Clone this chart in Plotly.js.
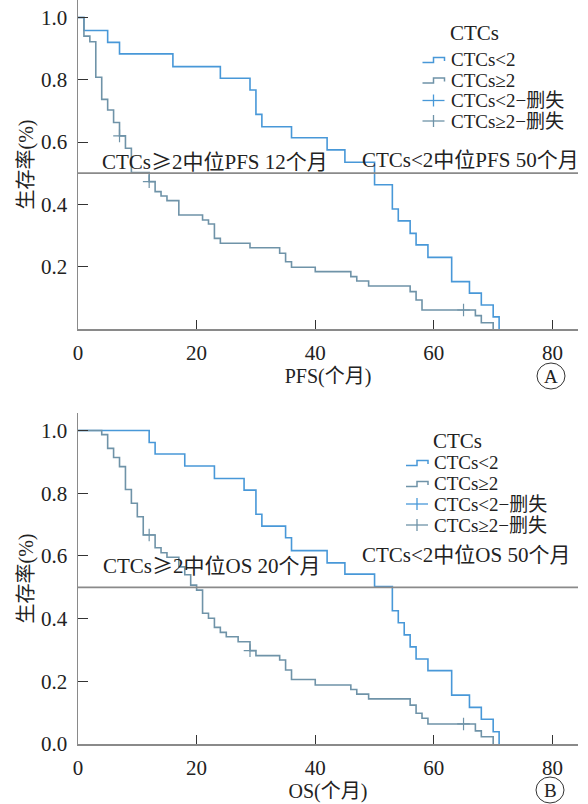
<!DOCTYPE html>
<html>
<head>
<meta charset="utf-8">
<script src="https://cdn.plot.ly/plotly-3.0.1.min.js"></script>
<style>html,body{margin:0;padding:0;background:#fff;}#chart{width:588px;height:804px;}</style>
</head>
<body>
<div id="chart"></div>
<script>
// ---------- DATA ----------
// PFS, CTCs<2
const pfsLowT = [0, 1, 5, 7, 16, 24, 29, 30, 31, 36, 42, 45, 50, 53, 54, 56, 57, 59, 63, 66, 68, 70, 71];
const pfsLowS = [1, 0.958, 0.92, 0.883, 0.842, 0.805, 0.767, 0.689, 0.649, 0.614, 0.575, 0.535, 0.463, 0.385, 0.347, 0.307, 0.27, 0.23, 0.152, 0.115, 0.077, 0.039, 0];
// PFS, CTCs>=2
const pfsHighT = [0, 1, 2, 3, 4, 5, 6, 7, 8, 9, 12, 13, 14, 15, 17, 21, 22, 23, 24, 29, 34, 35, 36, 40, 46, 47, 49, 56, 57, 58, 67, 68, 70];
const pfsHighS = [1, 0.94, 0.922, 0.808, 0.737, 0.703, 0.663, 0.62, 0.58, 0.502, 0.473, 0.441, 0.427, 0.412, 0.366, 0.35, 0.337, 0.291, 0.275, 0.261, 0.243, 0.216, 0.198, 0.184, 0.168, 0.154, 0.138, 0.12, 0.093, 0.061, 0.043, 0.02, 0];
// PFS censored
const pfsLowCensT = [];
const pfsLowCensS = [];
const pfsHighCensT = [7, 12, 65];
const pfsHighCensS = [0.62, 0.473, 0.061];

// OS, CTCs<2
const osLowT = [0, 12, 13, 18, 23, 28, 30, 31, 35, 36, 42, 45, 50, 53, 54, 55, 56, 57, 59, 63, 66, 68, 70, 71];
const osLowS = [1, 0.962, 0.925, 0.887, 0.847, 0.81, 0.733, 0.695, 0.658, 0.617, 0.578, 0.542, 0.502, 0.425, 0.387, 0.348, 0.31, 0.271, 0.234, 0.156, 0.117, 0.079, 0.039, 0];
// OS, CTCs>=2
const osHighT = [0, 4, 5, 6, 7, 8, 9, 10, 11, 13, 14, 15, 17, 18, 19, 20, 21, 22, 23, 24, 25, 27, 29, 30, 34, 35, 36, 40, 46, 47, 49, 56, 57, 58, 59, 67, 68, 70];
const osHighS = [1, 0.987, 0.943, 0.914, 0.885, 0.812, 0.768, 0.725, 0.667, 0.626, 0.61, 0.596, 0.565, 0.54, 0.507, 0.491, 0.417, 0.401, 0.372, 0.356, 0.342, 0.326, 0.298, 0.282, 0.268, 0.236, 0.206, 0.188, 0.174, 0.159, 0.144, 0.124, 0.098, 0.082, 0.064, 0.042, 0.023, 0];
// OS censored
const osLowCensT = [];
const osLowCensS = [];
const osHighCensT = [12, 29, 65];
const osHighCensS = [0.667, 0.298, 0.064];

// labels
const legendTitle = 'CTCs';
const legendNames = ['CTCs<2', 'CTCs≥2', 'CTCs<2−删失', 'CTCs≥2−删失'];
const xTicks = [0, 20, 40, 60, 80];
const yTicksTop = [0.2, 0.4, 0.6, 0.8, 1.0];
const yTicksBottom = [0.0, 0.2, 0.4, 0.6, 0.8, 1.0];
const medianLevel = 0.5;
const pfsNotes = ['CTCs≥2中位PFS 12个月', 'CTCs<2中位PFS 50个月'];
const osNotes = ['CTCs≥2中位OS 20个月', 'CTCs<2中位OS 50个月'];

// ---------- STYLE ----------
const W = 588, H = 804;
const BLUE = '#4898d8';
const GRAY = '#6f93a8';
const FONT = 'Liberation Serif, Times New Roman, Noto Sans CJK SC, serif';
const px = v => v / W;
const py = v => 1 - v / H;
const esc = s => s.replace(/</g, '&lt;');
// the reference sets "≥" as a wide, CJK-style glyph in the median notes
const wide = s => esc(s).replace(/≥/g, '<span style="font-family:Noto Sans CJK SC">≥</span>');

function curve(t, s, color, xa, ya, name) {
  return {x: t, y: s, type: 'scatter', mode: 'lines', line: {shape: 'hv', color: color, width: 1.6},
          xaxis: xa, yaxis: ya, name: name, showlegend: false, hoverinfo: 'skip'};
}
function cens(t, s, color, xa, ya, name) {
  return {x: t, y: s, type: 'scatter', mode: 'markers',
          marker: {symbol: 'cross-thin', size: 9, line: {color: color, width: 1.2}, color: color},
          xaxis: xa, yaxis: ya, name: name, showlegend: false, hoverinfo: 'skip'};
}

const data = [
  curve(pfsLowT, pfsLowS, BLUE, 'x', 'y', legendNames[0]),
  curve(pfsHighT, pfsHighS, GRAY, 'x', 'y', legendNames[1]),
  cens(pfsLowCensT, pfsLowCensS, BLUE, 'x', 'y', legendNames[2]),
  cens(pfsHighCensT, pfsHighCensS, GRAY, 'x', 'y', legendNames[3]),
  curve(osLowT, osLowS, BLUE, 'x2', 'y2', legendNames[0]),
  curve(osHighT, osHighS, GRAY, 'x2', 'y2', legendNames[1]),
  cens(osLowCensT, osLowCensS, BLUE, 'x2', 'y2', legendNames[2]),
  cens(osHighCensT, osHighCensS, GRAY, 'x2', 'y2', legendNames[3])
];

// ---------- LAYOUT ----------
const xDomain = [px(78), px(578)];
function xaxis(title, anchor) {
  return {domain: xDomain, range: [0, 84.3], anchor: anchor, tickvals: xTicks, ticktext: xTicks.map(String),
          ticks: 'inside', ticklen: 9, tickwidth: 1, tickcolor: '#333', showline: true, linecolor: '#8a8a8a', linewidth: 2,
          showgrid: false, zeroline: false, ticklabelstandoff: 4,
          tickfont: {family: FONT, size: 21, color: '#222'},
          title: {text: title, font: {family: FONT, size: 20, color: '#222'}, standoff: 3}};
}
function yaxis(domain, ticks, anchor) {
  return {domain: domain, range: [0, 1.056], anchor: anchor, tickvals: ticks, ticktext: ticks.map(v => v.toFixed(1)),
          ticks: 'inside', ticklen: 10, tickwidth: 1, tickcolor: '#333', showline: true, linecolor: '#8a8a8a', linewidth: 1.5,
          showgrid: false, zeroline: false, ticklabelstandoff: 5,
          tickfont: {family: FONT, size: 21, color: '#222'},
          title: {text: '生存率(%)', font: {family: FONT, size: 20, color: '#222'}, standoff: 2}};
}

const shapes = [
  {type: 'line', xref: 'x domain', yref: 'y', x0: 0, x1: 1, y0: medianLevel, y1: medianLevel, line: {color: '#8a8a8a', width: 1.8}},
  {type: 'line', xref: 'x2 domain', yref: 'y2', x0: 0, x1: 1, y0: medianLevel, y1: medianLevel, line: {color: '#8a8a8a', width: 1.8}},
  // circled panel letters
  {type: 'circle', xref: 'paper', yref: 'paper', x0: px(537), x1: px(565), y0: py(363), y1: py(389), line: {color: '#333', width: 1}},
  {type: 'circle', xref: 'paper', yref: 'paper', x0: px(536), x1: px(564), y0: py(777), y1: py(803), line: {color: '#333', width: 1}}
];
const annotations = [];

function addNote(text, left, cy) {
  annotations.push({text: wide(text), xref: 'paper', yref: 'paper', x: px(left), y: py(cy), xanchor: 'left', yanchor: 'middle',
                    showarrow: false, font: {family: FONT, size: 21, color: '#222'}});
}
addNote(pfsNotes[0], 100, 160);
addNote(pfsNotes[1], 360, 160);
addNote(osNotes[0], 101, 564);
addNote(osNotes[1], 360, 555);

annotations.push({text: 'A', xref: 'paper', yref: 'paper', x: px(551), y: py(376.5), xanchor: 'center', yanchor: 'middle', showarrow: false, font: {family: FONT, size: 19, color: '#222'}});
annotations.push({text: 'B', xref: 'paper', yref: 'paper', x: px(550), y: py(790.5), xanchor: 'center', yanchor: 'middle', showarrow: false, font: {family: FONT, size: 19, color: '#222'}});

// manual legends (step icons like the reference)
function addLegend(symX0, textX, titleY, rowsY) {
  annotations.push({text: legendTitle, xref: 'paper', yref: 'paper', x: px(textX - 1), y: py(titleY), xanchor: 'left', yanchor: 'middle',
                    showarrow: false, font: {family: FONT, size: 21, color: '#222'}});
  const colors = [BLUE, GRAY, BLUE, GRAY];
  rowsY.forEach((cy, i) => {
    const c = colors[i];
    const x0 = symX0, x1 = symX0 + 22, xm = symX0 + 11;
    if (i < 2) {
      const path = 'M' + px(x0) + ',' + py(cy + 3) + ' L' + px(xm) + ',' + py(cy + 3) + ' L' + px(xm) + ',' + py(cy - 2) +
                   ' L' + px(x1) + ',' + py(cy - 2) + ' L' + px(x1) + ',' + py(cy + 1.5);
      shapes.push({type: 'path', xref: 'paper', yref: 'paper', path: path, line: {color: c, width: 1.5}});
    } else {
      shapes.push({type: 'line', xref: 'paper', yref: 'paper', x0: px(x0), x1: px(x1), y0: py(cy), y1: py(cy), line: {color: c, width: 1.3}});
      shapes.push({type: 'line', xref: 'paper', yref: 'paper', x0: px(xm), x1: px(xm), y0: py(cy - 6), y1: py(cy + 6), line: {color: c, width: 1.3}});
    }
    annotations.push({text: esc(legendNames[i]), xref: 'paper', yref: 'paper', x: px(textX), y: py(cy), xanchor: 'left', yanchor: 'middle',
                      showarrow: false, font: {family: FONT, size: 19, color: '#222'}});
  });
}
addLegend(422.5, 449, 33, [59.5, 80, 100.5, 121]);
addLegend(406, 432, 441, [462.5, 483.5, 504, 525]);

const layout = {
  width: W, height: H, margin: {l: 0, r: 0, t: 0, b: 0},
  paper_bgcolor: '#fff', plot_bgcolor: '#fff', showlegend: false,
  font: {family: FONT, color: '#222'},
  xaxis: xaxis('PFS(个月)', 'y'),
  yaxis: yaxis([py(329), 1], yTicksTop, 'x'),
  xaxis2: xaxis('OS(个月)', 'y2'),
  yaxis2: yaxis([py(744), py(413)], yTicksBottom, 'x2'),
  shapes: shapes, annotations: annotations
};

Plotly.newPlot('chart', data, layout, {staticPlot: true, displayModeBar: false});
</script>
</body>
</html>
